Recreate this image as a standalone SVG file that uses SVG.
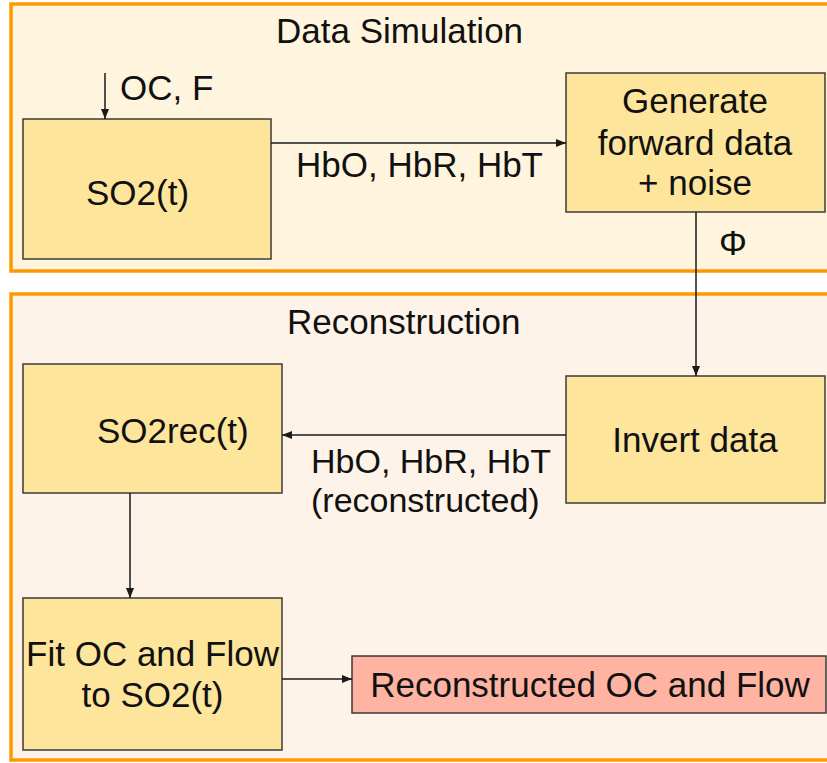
<svg xmlns="http://www.w3.org/2000/svg" width="827" height="763" viewBox="0 0 827 763">
  <style>
    .panel { stroke: #FF9900; stroke-width: 3.5; }
    .box { fill: #FDE59B; stroke: #3a3a3a; stroke-width: 1.5; }
    .result { fill: #FFB3A2; stroke: #3a3a3a; stroke-width: 1.5; }
    .lbl { font-family: "Liberation Sans", Arial, sans-serif; font-size: 35px; fill: #111; }
    .sm { font-size: 34px; }
    .mid { text-anchor: middle; }
    .conn { stroke: #1a1a1a; stroke-width: 1.5; fill: none; marker-end: url(#arrow); }
  </style>
  <defs>
    <marker id="arrow" viewBox="0 0 10 10" refX="10" refY="5" markerWidth="10" markerHeight="10" markerUnits="userSpaceOnUse" orient="auto">
      <path d="M0,1 L10,5 L0,9 Z" fill="#1a1a1a"/>
    </marker>
  </defs>

  <rect width="827" height="763" fill="#ffffff"/>

  <!-- Panels -->
  <g id="panel-simulation">
    <rect class="panel" x="11" y="4" width="830" height="267" fill="#FFF5DE"/>
    <text class="lbl" x="276" y="43">Data Simulation</text>
  </g>
  <g id="panel-reconstruction">
    <rect class="panel" x="11" y="294" width="830" height="466" fill="#FEF3E9"/>
    <text class="lbl" x="287" y="334">Reconstruction</text>
  </g>

  <!-- Nodes -->
  <g id="node-so2">
    <rect class="box" x="23" y="119" width="248" height="140"/>
    <text class="lbl" x="86" y="205">SO2(t)</text>
  </g>
  <g id="node-generate">
    <rect class="box" x="566" y="73" width="259" height="139"/>
    <text class="lbl mid" x="695" y="113">Generate</text>
    <text class="lbl mid" x="695" y="155">forward data</text>
    <text class="lbl mid" x="695" y="195">+ noise</text>
  </g>
  <g id="node-invert">
    <rect class="box" x="566" y="376" width="259" height="127"/>
    <text class="lbl mid" x="695" y="452">Invert data</text>
  </g>
  <g id="node-so2rec">
    <rect class="box" x="23" y="364" width="259" height="129"/>
    <text class="lbl" x="97" y="443">SO2rec(t)</text>
  </g>
  <g id="node-fit">
    <rect class="box" x="23" y="598" width="259" height="152"/>
    <text class="lbl mid" x="152.5" y="666">Fit OC and Flow</text>
    <text class="lbl mid" x="152.5" y="707">to SO2(t)</text>
  </g>
  <g id="node-result">
    <rect class="result" x="352" y="656" width="474" height="57"/>
    <text class="lbl mid" x="590" y="697">Reconstructed OC and Flow</text>
  </g>

  <!-- Connectors -->
  <g id="connectors">
    <line class="conn" x1="105" y1="73" x2="105" y2="119"/>
    <text class="lbl" x="120" y="100">OC, F</text>

    <line class="conn" x1="271" y1="143" x2="566" y2="143"/>
    <text class="lbl" x="296" y="177">HbO, HbR, HbT</text>

    <line class="conn" x1="696" y1="212" x2="696" y2="376"/>
    <text class="lbl mid" x="733" y="255">Φ</text>

    <line class="conn" x1="566" y1="435" x2="282" y2="435"/>
    <text class="lbl sm" x="311" y="473">HbO, HbR, HbT</text>
    <text class="lbl sm" x="311" y="512">(reconstructed)</text>

    <line class="conn" x1="130" y1="493" x2="130" y2="598"/>

    <line class="conn" x1="282" y1="679" x2="352" y2="679"/>
  </g>
</svg>
